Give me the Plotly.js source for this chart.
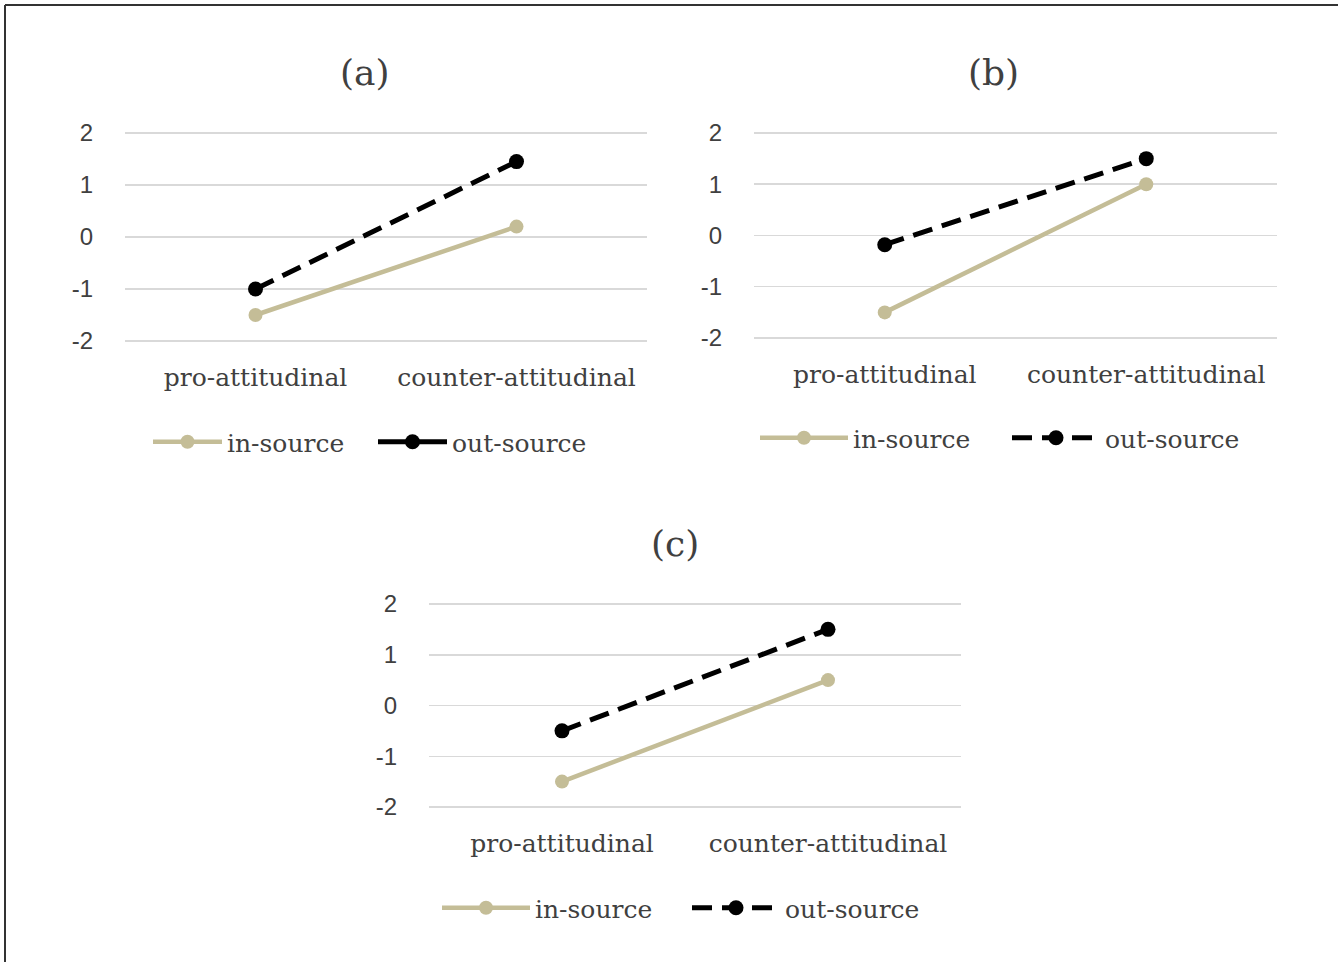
<!DOCTYPE html>
<html>
<head>
<meta charset="utf-8">
<script src="https://cdn.plot.ly/plotly-3.0.1.min.js"></script>
<style>html,body{margin:0;padding:0;background:#fff;overflow:hidden;}#chart{width:1338px;height:962px;}</style>
</head>
<body>
<div id="chart"></div>
<script>
// ---- data ----
const categories = ["pro-attitudinal", "counter-attitudinal"];
const panelTitles = ["(a)", "(b)", "(c)"];
const seriesNames = ["in-source", "out-source"];
const inSourceA = [-1.5, 0.2];
const outSourceA = [-1.0, 1.45];
const inSourceB = [-1.5, 1.0];
const outSourceB = [-0.18, 1.5];
const inSourceC = [-1.5, 0.5];
const outSourceC = [-0.5, 1.5];
const yTickVals = [-2, -1, 0, 1, 2];
const yTickText = ["-2", "-1", "0", "1", "2"];

// ---- layout helpers (pixels -> paper) ----
const W = 1338, H = 962;
const px = x => x / W;
const py = y => 1 - y / H;

const tan = "#c4bd97";
const serif = "DejaVu Serif, Cambria, serif";
const sans = "Liberation Sans, Arial, sans-serif";

// plot boxes in pixels: [left, right, top(y=2 px), bottom(y=-2 px)]
const boxes = [
  [125, 647, 133, 341],
  [754, 1277, 133, 338],
  [429, 961, 604, 807]
];
const pad = 0.1;

const seriesData = [[inSourceA, outSourceA], [inSourceB, outSourceB], [inSourceC, outSourceC]];

const traces = [];
const layout = {
  width: W, height: H, autosize: false,
  margin: {l: 0, r: 0, t: 0, b: 0, pad: 0, autoexpand: false},
  paper_bgcolor: "#fff", plot_bgcolor: "rgba(0,0,0,0)",
  showlegend: true,
  annotations: [], shapes: []
};

boxes.forEach((b, i) => {
  const n = i === 0 ? "" : String(i + 1);
  const unit = (b[3] - b[2]) / 4;
  const top = b[2] - pad * unit, bot = b[3] + pad * unit;
  layout["xaxis" + n] = {
    domain: [px(b[0]), px(b[1])], anchor: "y" + n,
    type: "category", range: [-0.5, 1.5],
    showgrid: false, zeroline: false, showline: false,
    ticks: "outside", ticklen: 9, tickcolor: "rgba(0,0,0,0)",
    tickfont: {family: serif, size: 25, color: "#404040"},
    fixedrange: true
  };
  layout["yaxis" + n] = {
    domain: [py(bot), py(top)], anchor: "x" + n,
    range: [-2 - pad, 2 + pad],
    tickvals: yTickVals, ticktext: yTickText,
    showgrid: true, gridcolor: "#d9d9d9", gridwidth: 1.5,
    zeroline: false, showline: false,
    ticks: "outside", ticklen: 26, tickcolor: "rgba(0,0,0,0)",
    tickfont: {family: sans, size: 24, color: "#404040"},
    fixedrange: true
  };
  const lg = i === 0 ? "legend" : "legend" + (i + 1);
  const [inS, outS] = seriesData[i];
  traces.push({
    x: categories, y: inS, xaxis: "x" + n, yaxis: "y" + n,
    type: "scatter", mode: "lines+markers", name: seriesNames[0],
    line: {color: tan, width: 4.5},
    marker: {color: tan, size: 14},
    legend: lg, showlegend: true, hoverinfo: "skip"
  });
  traces.push({
    x: categories, y: outS, xaxis: "x" + n, yaxis: "y" + n,
    type: "scatter", mode: "lines+markers", name: seriesNames[1],
    line: {color: "#000", width: 5, dash: "20px,10px"},
    marker: {color: "#000", size: 15},
    legend: lg, showlegend: i !== 0, hoverinfo: "skip"
  });
  if (i === 0) {
    // legend of panel (a) shows the out-source key as a solid line
    traces.push({
      x: [null], y: [null], xaxis: "x" + n, yaxis: "y" + n,
      type: "scatter", mode: "lines+markers", name: seriesNames[1],
      line: {color: "#000", width: 5},
      marker: {color: "#000", size: 15},
      legend: lg, showlegend: true, hoverinfo: "skip"
    });
  }
});

const legendPos = [
  {x: 148, y: 442, ew: 141, iw: 69},
  {x: 755, y: 438, ew: 149, iw: 88},
  {x: 437, y: 908, ew: 147, iw: 88}
];
legendPos.forEach((p, i) => {
  const key = i === 0 ? "legend" : "legend" + (i + 1);
  layout[key] = {
    orientation: "h", x: px(p.x), y: py(p.y),
    xanchor: "left", yanchor: "middle",
    entrywidth: p.ew, entrywidthmode: "pixels",
    itemwidth: p.iw,
    font: {family: serif, size: 25, color: "#404040"},
    bgcolor: "rgba(0,0,0,0)", borderwidth: 0
  };
});

const titlePos = [[365, 72], [993, 72], [675, 543]];
titlePos.forEach((p, i) => {
  layout.annotations.push({
    text: panelTitles[i], xref: "paper", yref: "paper",
    x: px(p[0]), y: py(p[1]), xanchor: "center", yanchor: "middle",
    showarrow: false, font: {family: serif, size: 36, color: "#404040"}
  });
});

// frame (top and left edges)
layout.shapes.push({type: "line", xref: "paper", yref: "paper", x0: px(5), x1: 1, y0: py(5), y1: py(5), line: {color: "#333", width: 2}});
layout.shapes.push({type: "line", xref: "paper", yref: "paper", x0: px(5), x1: px(5), y0: py(5), y1: 0, line: {color: "#333", width: 2}});

Plotly.newPlot("chart", traces, layout, {displayModeBar: false, staticPlot: true});
</script>
</body>
</html>
